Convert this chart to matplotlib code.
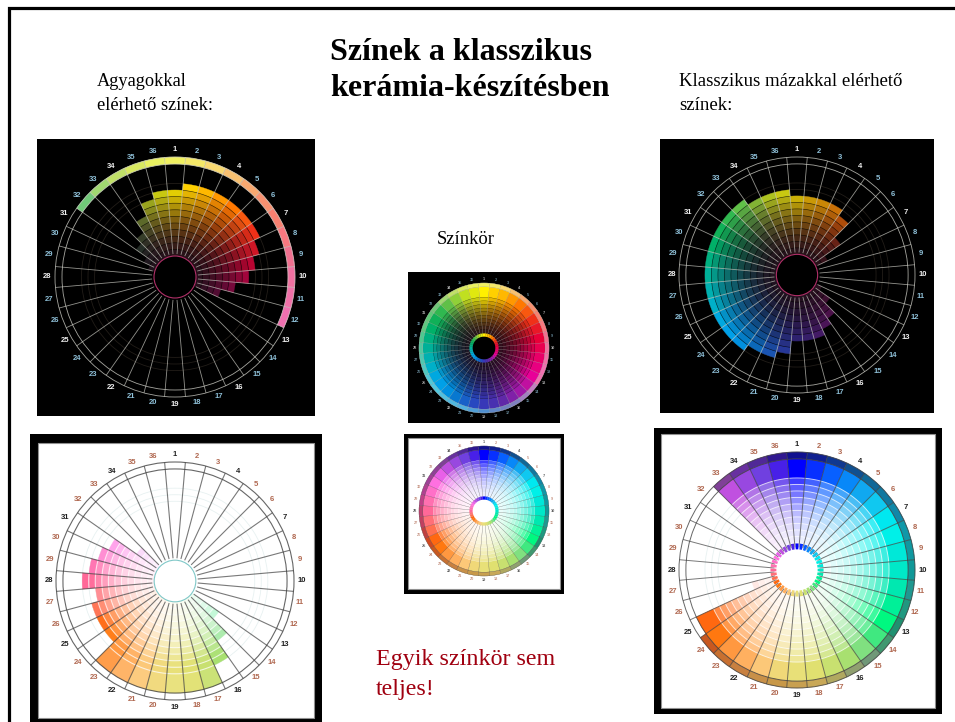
import matplotlib
matplotlib.use('Agg')
import matplotlib.pyplot as plt
from matplotlib.patches import Wedge, Rectangle, Circle
import numpy as np

# filled rings per sector (index 0 = sector 1)
clay_dark = [10, 11, 11, 11, 11, 11, 11, 10, 9, 8, 6, 4, 0, 0, 0, 0, 0, 0,
             0, 0, 0, 0, 0, 0, 0, 0, 0, 0, 0, 1, 2, 4, 5, 7, 9, 10]
glaze_dark = [9, 9, 9, 9, 8, 5, 2, 0, 0, 0, 0, 0, 1, 3, 5, 6, 7, 7,
              7, 9, 10, 10, 11, 11, 11, 11, 11, 11, 11, 11, 11, 11, 11, 10, 10, 10]
full_wheel = [12] * 36
clay_light = [0, 0, 0, 0, 0, 0, 0, 0, 0, 0, 0, 0, 0, 5, 8, 11, 12, 12,
              12, 12, 12, 12, 12, 10, 10, 10, 9, 11, 10, 9, 8, 4, 0, 0, 0, 0]
glaze_light = [12, 12, 12, 12, 12, 12, 12, 12, 12, 12, 12, 12, 12, 12, 12, 12, 12, 12,
               12, 12, 12, 12, 12, 12, 12, 4, 1, 0, 0, 0, 0, 0, 12, 12, 12, 12]

# outer band: sectors that carry the coloured rim
clay_dark_band = [1, 2, 3, 4, 5, 6, 7, 8, 9, 10, 11, 12, 32, 33, 34, 35, 36]
glaze_light_band = [1, 2, 3, 4, 5, 6, 7, 8, 9, 10, 11, 12, 13, 14, 15, 16, 17, 18,
                    19, 20, 21, 22, 23, 24, 33, 34, 35, 36]
all_sectors = list(range(1, 37))

hues_dark = ['#fff000', '#ffd000', '#ffb800', '#ff9800', '#ff7800', '#f85810',
             '#f03018', '#e81828', '#e80038', '#e80050', '#e80068', '#e80080',
             '#e80098', '#c010a0', '#a018a8', '#8020a8', '#6028a8', '#4830b0',
             '#3838b8', '#2848c0', '#1860c8', '#0878d0', '#0090e0', '#00a0e8',
             '#00a8e0', '#00b0c8', '#00b0b0', '#00b098', '#00b080', '#00b068',
             '#10b058', '#30b850', '#60c048', '#90d038', '#c0e020', '#e0e810']
hues_light = ['#0000ff', '#0830ff', '#0860ff', '#0888f8', '#10a8f0', '#10c8f0',
              '#00e8f0', '#00f0e8', '#00e8d8', '#00e8c8', '#00e8b0', '#00f098',
              '#00f880', '#40e880', '#80e080', '#a8e070', '#c8e070', '#e0e070',
              '#e8e078', '#f0d878', '#fcc878', '#ffb060', '#ff9840', '#ff7810',
              '#ff6810', '#ff7050', '#ff7078', '#ff6898', '#ff70b0', '#ff70c8',
              '#ff70e0', '#e860e8', '#c050e0', '#9848e0', '#7040e0', '#4820e8']
rim_dark = ['#f0f060', '#f4e868', '#f8d870', '#f8c070', '#f8a870', '#f89070',
            '#f88070', '#f87880', '#f07090', '#f070a0', '#f070a8', '#f070b0',
            '#f070b0', '#c080c0', '#a080c0', '#8080c0', '#7080c0', '#6088c8',
            '#5090d0', '#50a0d8', '#50b0e0', '#50b8e0', '#50c0e0', '#50c8e0',
            '#50c8d8', '#50c8c0', '#50c8b0', '#50c8a0', '#50c890', '#60c880',
            '#60c878', '#70c878', '#a0d870', '#c0e068', '#d8e860', '#e8f060']
rim_light = ['#101090', '#102090', '#103890', '#105090', '#106898', '#1078a0',
             '#1088a8', '#1098a8', '#1098a0', '#109898', '#209890', '#209880',
             '#209070', '#409870', '#709878', '#90a070', '#b0a860', '#c8a858',
             '#c8a050', '#c89848', '#c89048', '#c88040', '#c87030', '#c85820',
             '#d04820', '#c04040', '#c04060', '#c04070', '#c04088', '#b04090',
             '#a04098', '#904098', '#804098', '#6830a0', '#502898', '#301890']

tick_labels = [str(i) for i in range(1, 37)]

title_lines = ['Színek a klasszikus', 'kerámia-készítésben']
left_lines = ['Agyagokkal', 'elérhető színek:']
right_lines = ['Klasszikus mázakkal elérhető', 'színek:']
mid_label = 'Színkör'
note_lines = ['Egyik színkör sem', 'teljes!']


def py(y):
    return 722 - y


def shade(hex_col, level, dark, sat):
    """ring colour: darker towards the hub on black, paler on white"""
    rgb = np.array(matplotlib.colors.to_rgb(hex_col))
    if dark:
        f = min(sat * (level / 12.0) ** 1.4, 1.0)
        col = rgb * np.array([f, f ** 1.2, f])
        col = col + (1 - f) * np.array([0.13, 0.06, 0.1])
        return tuple(np.clip(col, 0, 1))
    f = 0.06 + 0.7 * (level / 11.0) ** 2
    f = min(f * sat, 1.0)
    if level == 12:
        f = 0.95 if sat > 1 else 1.0
    return tuple(1 - (1 - rgb) * f)


def draw_wheel(ax, cx, cy, R, levels, hues, rim, rim_sectors, dark, lbl_size, line_w, sat=1.0, collar=False):
    y0 = py(cy)
    scale = R / 120.0
    hole = 21 * scale
    step = 6.6 * scale
    ring_col = 'black' if dark else 'white'
    line_col = '#d0d0c8' if dark else '#404040'
    ax.add_patch(Circle((cx, y0), hole, color='black' if dark else 'white', zorder=5, lw=0))

    for i, n in enumerate(levels):
        mid = 90 - i * 10
        t1, t2 = mid - 5, mid + 5
        for k in range(1, n + 1):
            if k <= 11:
                r1, r2 = hole + (k - 1) * step, hole + k * step
            else:
                r1, r2 = hole + 11 * step, 113 * scale
            c = shade(hues[i], k, dark, sat)
            ax.add_patch(Wedge((cx, y0), r2, t1, t2, width=r2 - r1,
                               fc=c, ec=c, lw=0.2, zorder=2))
        if collar:
            gap = 0 if R < 100 else 1.6
            ax.add_patch(Wedge((cx, y0), hole + 6 * scale, t1 + gap, t2 - gap, width=6 * scale,
                               fc=hues[i], ec='none', zorder=7))

    for s in rim_sectors:
        mid = 90 - (s - 1) * 10
        ax.add_patch(Wedge((cx, y0), 120 * scale, mid - 5, mid + 5, width=7 * scale,
                           fc=rim[s - 1], ec=rim[s - 1], lw=0.2, zorder=2))

    # ring separators, only over the filled part
    sep = line_w * (1.4 if not dark else 1.0)
    for i, n in enumerate(levels):
        mid = 90 - i * 10
        for k in range(1, min(n, 11) + 1):
            r = hole + k * step
            if k == n:
                continue
            ax.add_patch(Wedge((cx, y0), r + sep / 2, mid - 5, mid + 5, width=sep,
                               fc=ring_col, ec='none', alpha=0.7, zorder=3))

    # spokes and the two outer circles
    for i in range(36):
        a = np.radians(90 - i * 10 - 5)
        ax.plot([cx + (hole + 2 * scale) * np.cos(a), cx + 120 * scale * np.cos(a)],
                [y0 + (hole + 2 * scale) * np.sin(a), y0 + 120 * scale * np.sin(a)],
                color=line_col, lw=line_w, alpha=0.7, zorder=6, solid_capstyle='butt')
    for r in (113 * scale, 120 * scale):
        ax.add_patch(Circle((cx, y0), r, fc='none', ec=line_col, lw=line_w, alpha=0.8, zorder=6))
    # faint ghost rings of the empty part
    for r in (hole + 9 * step, hole + 10 * step, hole + 11 * step):
        ax.add_patch(Circle((cx, y0), r, fc='none', ec='#383028' if dark else '#d8e8e8',
                            lw=0.6, alpha=0.6, zorder=1))
    # thin line around the hub
    if not collar:
        ax.add_patch(Circle((cx, y0), hole, fc='none', ec='#b03068' if dark else '#80c8c8',
                            lw=0.8, zorder=7))

    for i, lab in enumerate(tick_labels):
        a = np.radians(90 - i * 10)
        main = i % 3 == 0
        if dark:
            col = '#f0f0f0' if main else '#8fc0d8'
        else:
            col = '#202020' if main else '#b06850'
        ax.text(cx + 127.5 * scale * np.cos(a), y0 + 127.5 * scale * np.sin(a), lab,
                color=col, fontsize=lbl_size, fontweight='bold',
                ha='center', va='center', family='Liberation Sans', zorder=7,
                alpha=1 if R > 100 else 0.7)


fig = plt.figure(figsize=(9.55, 7.22), dpi=100)
ax = fig.add_axes([0, 0, 1, 1])
ax.set_xlim(0, 955)
ax.set_ylim(0, 722)
ax.axis('off')
ax.set_aspect('equal')

# slide border, only top and left
ax.plot([9, 9, 955], [0, py(7.5), py(7.5)], color='black', lw=2.3, zorder=1,
        solid_joinstyle='miter')


def panel(x0, y0, x1, y1, color, edge='none'):
    ax.add_patch(Rectangle((x0, py(y1)), x1 - x0, y1 - y0, fc=color, ec=edge, lw=0.8, zorder=0.5))


# black panels
panel(37, 139, 315, 416, 'black')
panel(660, 139, 934, 413, 'black')
panel(408, 272, 560, 423, 'black')
# framed white panels
panel(30, 434, 322, 722, 'black')
panel(38, 443, 314, 718, 'white', '#909090')
panel(654, 428, 942, 714, 'black')
panel(661, 434, 935, 708, 'white', '#909090')
panel(404, 434, 564, 594, 'black')
panel(408, 438, 560, 589, 'white', '#909090')

draw_wheel(ax, 175, 277, 120, clay_dark, hues_dark, rim_dark, clay_dark_band, True, 5.5, 0.6, sat=1.13)
draw_wheel(ax, 797, 275, 118, glaze_dark, hues_dark, rim_dark, [], True, 5.5, 0.6, sat=1.13)
draw_wheel(ax, 484, 348, 65, full_wheel, hues_dark, rim_dark, all_sectors, True, 2.8, 0.25, collar=True)
draw_wheel(ax, 484, 511, 65, full_wheel, hues_light, rim_light, all_sectors, False, 2.8, 0.25, collar=True)
draw_wheel(ax, 175, 581, 119, clay_light, hues_light, rim_light, [], False, 5.5, 0.8, sat=1.5)
draw_wheel(ax, 797, 570, 118, glaze_light, hues_light, rim_light, glaze_light_band, False, 5.5, 0.7, collar=True)

serif = 'Liberation Serif'
ax.text(330, py(52), title_lines[0], family=serif, fontweight='bold', fontsize=23, va='center')
ax.text(330, py(89), title_lines[1], family=serif, fontweight='bold', fontsize=23, va='center')
ax.text(97, py(82), left_lines[0], family=serif, fontsize=13.2, va='center')
ax.text(97, py(105), left_lines[1], family=serif, fontsize=13.2, va='center')
ax.text(679, py(82), right_lines[0], family=serif, fontsize=13.5, va='center')
ax.text(679, py(106), right_lines[1], family=serif, fontsize=13.5, va='center')
ax.text(437, py(239), mid_label, family=serif, fontsize=13.4, va='center')
ax.text(376, py(660), note_lines[0], family=serif, fontsize=17.3, color='#a00010', va='center')
ax.text(376, py(690), note_lines[1], family=serif, fontsize=17.3, color='#a00010', va='center')

fig.savefig('out.png', dpi=100)
